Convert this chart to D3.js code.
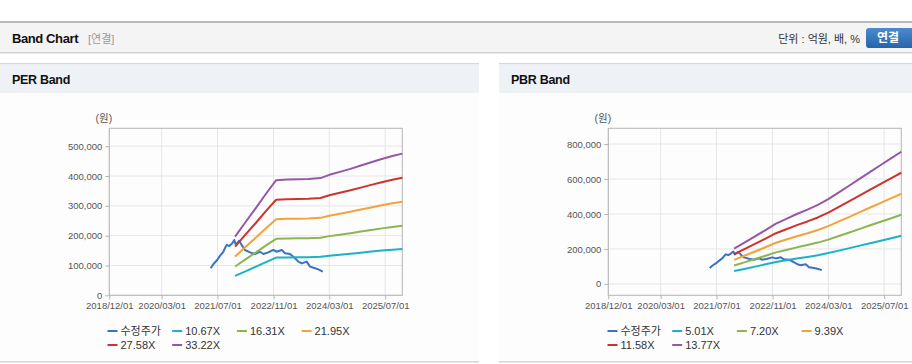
<!DOCTYPE html>
<html>
<head>
<meta charset="utf-8">
<script src="https://cdn.jsdelivr.net/npm/d3@7"></script>
<style>
  body { margin: 0; background: #fff; }
  svg { display: block; font-family: "Liberation Sans", Arial, "Noto Sans CJK KR", sans-serif; }
</style>
</head>
<body>
<svg id="chart" width="912" height="364"></svg>
<script>
// ---- data ----
const xTickLabels = ["2018/12/01", "2020/03/01", "2021/07/01", "2022/11/01", "2024/03/01", "2025/07/01"];

// 수정주가 (shared by both charts)
const priceDates = ["2021-05-02","2021-05-25","2021-06-28","2021-07-22","2021-08-20","2021-09-18","2021-10-11","2021-11-01","2021-11-24","2021-12-08","2022-01-06","2022-01-27","2022-02-25","2022-04-10","2022-05-23","2022-07-06","2022-08-04","2022-09-16","2022-10-30","2022-11-29","2023-01-11","2023-02-09","2023-03-25","2023-05-07","2023-06-05","2023-07-05","2023-08-17","2023-09-15","2023-10-29","2023-11-27","2024-01-04"];
const priceValues = [90600,104000,118500,132000,146000,169000,165400,172000,185600,168800,183000,169000,152000,144000,138600,146000,138600,144000,152000,146000,152000,141000,138600,124000,113000,107000,113000,96000,90600,87000,79000];

// PER band
const perNames = ["10.67X", "16.31X", "21.95X", "27.58X", "33.22X"];
const perYTicks = [0, 100000, 200000, 300000, 400000, 500000];
const perDates = ["2021-12-01","2022-03-01","2022-06-01","2022-09-01","2022-11-24","2023-03-01","2023-06-01","2023-09-01","2023-12-15","2024-03-01","2024-06-01","2024-09-01","2024-12-01","2025-03-01","2025-06-01","2025-09-01","2025-11-27"];
const per10 = [65000,80000,96000,112000,126500,127000,127500,128000,129000,132500,136000,139500,143000,146500,150000,153000,155000];
const per16 = [96700,120300,143900,168400,189500,190500,191000,191500,193000,198400,203300,208200,213600,219000,224400,229300,233200];
const per21 = [130200,161900,193600,226600,255000,256400,257000,257700,259700,266900,273500,280100,287400,294700,301900,308500,313800];
const per27 = [163500,203400,243200,284800,320500,322100,323000,323800,326300,335400,343700,352000,361100,370300,379400,387700,394300];
const per33 = [197000,245000,293000,343000,386000,388000,389000,390000,393000,404000,414000,424000,435000,446000,457000,467000,475000];

// PBR band
const pbrNames = ["5.01X", "7.20X", "9.39X", "11.58X", "13.77X"];
const pbrYTicks = [0, 200000, 400000, 600000, 800000];
const pbrDates = ["2021-12-01","2022-03-01","2022-06-01","2022-09-01","2022-12-01","2023-03-01","2023-06-01","2023-09-01","2023-12-01","2024-03-01","2024-06-01","2024-09-01","2024-12-01","2025-03-01","2025-06-01","2025-09-01","2025-11-27"];
const pbr5 = [73500,85900,99000,112000,125500,135300,145500,154600,164400,176400,190600,204800,219000,233200,247400,261600,275000];
const pbr7 = [105600,123400,142200,161100,180400,194500,209200,222200,236400,253600,274000,294400,314800,335200,355600,376000,395300];
const pbr9 = [137700,160900,185500,210000,235300,253700,272800,289800,308200,330700,357300,383900,410500,437100,463700,490300,515500];
const pbr11 = [169900,198500,228800,259000,290100,312900,336400,357400,380100,407900,440700,473500,506300,539100,571900,604700,635800];
const pbr13 = [202000,236000,272000,308000,345000,372000,400000,425000,452000,485000,524000,563000,602000,641000,680000,719000,756000];

const priceName = "수정주가";
const colors = ["#3a72c4", "#1ab2c6", "#8cb552", "#f2a33a", "#cc3330", "#9657a6"];

// ---- drawing ----
const svg = d3.select("#chart");
const parse = d3.timeParse("%Y-%m-%d");
const parseTick = d3.timeParse("%Y/%m/%d");

// top header bar
svg.append("rect").attr("x", 0).attr("y", 21).attr("width", 912).attr("height", 2).attr("fill", "#b9b9b9");
svg.append("rect").attr("x", 0).attr("y", 23).attr("width", 912).attr("height", 29).attr("fill", "#f4f4f4");
svg.append("rect").attr("x", 0).attr("y", 52).attr("width", 912).attr("height", 1).attr("fill", "#cfcfcf");
svg.append("rect").attr("x", 0).attr("y", 53).attr("width", 912).attr("height", 1).attr("fill", "#e9e9e9");
svg.append("text").attr("x", 12).attr("y", 43).text("Band Chart")
  .style("font-size", "13px").style("font-weight", "bold").style("fill", "#111").style("letter-spacing", "-0.4px");
svg.append("text").attr("x", 88).attr("y", 43).text("[연결]")
  .style("font-size", "11px").style("fill", "#999");
svg.append("text").attr("x", 860).attr("y", 43).attr("text-anchor", "end").text("단위 : 억원, 배, %")
  .style("font-size", "11px").style("fill", "#333");

const grad = svg.append("defs").append("linearGradient").attr("id", "btn").attr("x1", 0).attr("x2", 0).attr("y1", 0).attr("y2", 1);
grad.append("stop").attr("offset", "0%").attr("stop-color", "#4c8bd0");
grad.append("stop").attr("offset", "100%").attr("stop-color", "#2763a9");
svg.append("rect").attr("x", 866).attr("y", 28).attr("width", 52).attr("height", 20).attr("rx", 3).attr("fill", "url(#btn)");
svg.append("text").attr("x", 888).attr("y", 42).attr("text-anchor", "middle").text("연결")
  .style("font-size", "12px").style("font-weight", "bold").style("fill", "#fff");

function drawPanel(x0, w, title) {
  svg.append("rect").attr("x", x0).attr("y", 63).attr("width", w).attr("height", 1.5).attr("fill", "#d6d6d6");
  svg.append("rect").attr("x", x0).attr("y", 64.5).attr("width", w).attr("height", 28.5).attr("fill", "#eef2f7");
  svg.append("rect").attr("x", x0).attr("y", 93).attr("width", w).attr("height", 268).attr("fill", "#fdfdfd");
  svg.append("rect").attr("x", x0).attr("y", 361).attr("width", w).attr("height", 1.5).attr("fill", "#d6d6d6");
  svg.append("text").attr("x", x0 + 12).attr("y", 84).text(title)
    .style("font-size", "12.5px").style("font-weight", "bold").style("fill", "#111").style("letter-spacing", "-0.3px");
}

function drawChart(o) {
  const left = o.left, top = 128.3, width = 293, height = 167;
  const x = d3.scaleTime().domain([parse("2018-12-01"), parse("2025-11-27")]).range([left, left + width]);
  const y = d3.scaleLinear().domain(o.yDomain).range([top + height, top]);
  const g = svg.append("g");

  // grid
  g.selectAll(".hg").data(o.yTicks).enter().append("line")
    .attr("x1", left).attr("x2", left + width)
    .attr("y1", d => y(d)).attr("y2", d => y(d))
    .attr("stroke", "#e6e6e6");
  g.selectAll(".vg").data(xTickLabels).enter().append("line")
    .attr("x1", d => x(parseTick(d))).attr("x2", d => x(parseTick(d)))
    .attr("y1", top).attr("y2", top + height)
    .attr("stroke", "#e6e6e6");

  // axes
  const yAxis = d3.axisLeft(y).tickValues(o.yTicks).tickSize(4).tickPadding(3).tickFormat(d3.format(","));
  const xAxis = d3.axisBottom(x).tickValues(xTickLabels.map(parseTick)).tickSize(4).tickPadding(3).tickFormat(d3.timeFormat("%Y/%m/%d"));
  const ya = g.append("g").attr("transform", `translate(${left},0)`).call(yAxis);
  const xa = g.append("g").attr("transform", `translate(0,${top + height})`).call(xAxis);
  [ya, xa].forEach(a => {
    a.select(".domain").remove();
    a.selectAll("line").attr("stroke", "#b4b4b4");
    a.selectAll("text").style("font-size", "9.5px").style("fill", "#555").style("font-family", "inherit");
  });

  // frame
  g.append("rect").attr("x", left).attr("y", top).attr("width", width).attr("height", height)
    .attr("fill", "none").attr("stroke", "#b4b4b4");

  g.append("text").attr("x", left - 5.5).attr("y", 122).attr("text-anchor", "middle").text("(원)")
    .style("font-size", "10.5px").style("fill", "#555");

  // lines
  const line = d3.line().x(d => x(d[0])).y(d => y(d[1]));
  const series = [{ name: priceName, dates: priceDates, values: priceValues }]
    .concat(o.names.map((n, i) => ({ name: n, dates: o.dates, values: o.bands[i] })));
  series.forEach((s, i) => {
    g.append("path")
      .datum(s.dates.map((d, j) => [parse(d), s.values[j]]))
      .attr("d", line)
      .attr("fill", "none")
      .attr("stroke", colors[i])
      .attr("stroke-width", 2)
      .attr("stroke-linejoin", "round");
  });

  // legend
  const leg = g.selectAll(".leg").data(series).enter().append("g")
    .attr("transform", (d, i) => `translate(${o.legX + (i % 4) * 64.7},${331 + Math.floor(i / 4) * 14})`);
  leg.append("rect").attr("x", 0).attr("y", -1).attr("width", 10).attr("height", 2).attr("fill", (d, i) => colors[i]);
  leg.append("text").attr("x", 13).attr("y", 4).text(d => d.name)
    .style("font-size", "11px").style("fill", "#333");
}

drawPanel(0, 479, "PER Band");
drawPanel(499, 413, "PBR Band");

drawChart({
  left: 109.3, legX: 107.5, yDomain: [0, 560000], yTicks: perYTicks,
  names: perNames, dates: perDates, bands: [per10, per16, per21, per27, per33]
});
drawChart({
  left: 608.3, legX: 607.5, yDomain: [-65000, 890000], yTicks: pbrYTicks,
  names: pbrNames, dates: pbrDates, bands: [pbr5, pbr7, pbr9, pbr11, pbr13]
});
</script>
</body>
</html>
